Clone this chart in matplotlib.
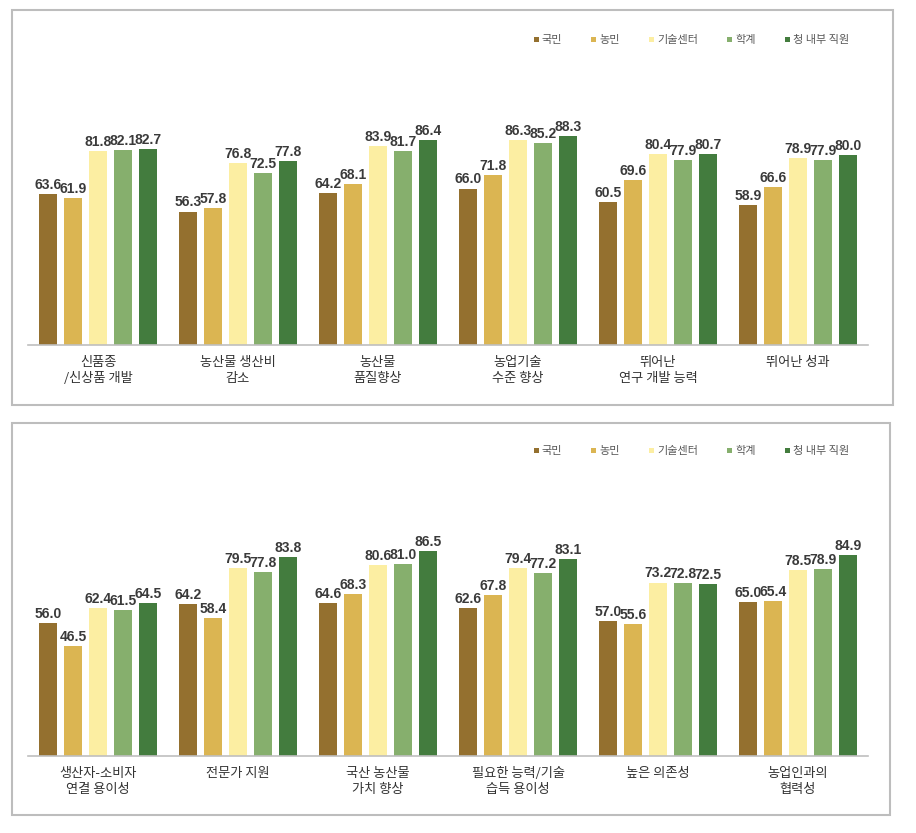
import matplotlib.pyplot as plt
import numpy as np
from matplotlib.patches import Rectangle

plt.rcParams["font.family"] = ["Noto Sans CJK KR", "DejaVu Sans"]

groups = ["국민", "농민", "기술센터", "학계", "청 내부 직원"]
colors = ["#94702F", "#DBB552", "#FCEEA2", "#86AF6D", "#437C3E"]

top_cats = ["신품종\n/신상품 개발", "농산물 생산비\n감소", "농산물\n품질향상",
            "농업기술\n수준 향상", "뛰어난\n연구 개발 능력", "뛰어난 성과"]
top_vals = [
    [63.6, 56.3, 64.2, 66.0, 60.5, 58.9],
    [61.9, 57.8, 68.1, 71.8, 69.6, 66.6],
    [81.8, 76.8, 83.9, 86.3, 80.4, 78.9],
    [82.1, 72.5, 81.7, 85.2, 77.9, 77.9],
    [82.7, 77.8, 86.4, 88.3, 80.7, 80.0],
]

bot_cats = ["생산자-소비자\n연결 용이성", "전문가 지원", "국산 농산물\n가치 향상",
            "필요한 능력/기술\n습득 용이성", "높은 의존성", "농업인과의\n협력성"]
bot_vals = [
    [56.0, 64.2, 64.6, 62.6, 57.0, 65.0],
    [46.5, 58.4, 68.3, 67.8, 55.6, 65.4],
    [62.4, 79.5, 80.6, 79.4, 73.2, 78.5],
    [61.5, 77.8, 81.0, 77.2, 72.8, 78.9],
    [64.5, 83.8, 86.5, 83.1, 72.5, 84.9],
]

W, H = 916, 833
fig = plt.figure(figsize=(W / 100, H / 100), dpi=100)


def px_rect(x0, y0, x1, y1):
    return (x0 / W, 1 - y1 / H, (x1 - x0) / W, (y1 - y0) / H)


def draw_panel(ax, cats, vals):
    x = np.arange(len(cats))
    pitch, bw = 0.1786, 0.128
    for i, (g, c) in enumerate(zip(groups, colors)):
        bars = ax.bar(x + (i - 2) * pitch, vals[i], bw, color=c, label=g)
        ax.bar_label(bars, fmt="%.1f", padding=1.5, fontsize=10,
                     fontweight="bold", color="#3A3A3A",
                     family=["Liberation Sans", "DejaVu Sans"])
    ax.set_xlim(-0.5, len(cats) - 0.5)
    ax.set_ylim(0, 100)
    ax.set_xticks(x)
    ax.set_xticklabels(cats, fontsize=9.5, color="#333333", linespacing=1.25)
    ax.tick_params(axis="x", length=0, pad=8)
    ax.set_yticks([])
    for s in ["top", "right", "left"]:
        ax.spines[s].set_visible(False)
    ax.spines["bottom"].set_color("#BFBFBF")
    ax.spines["bottom"].set_linewidth(1.2)
    ax.legend(loc="center right", bbox_to_anchor=(0.99, 1.285), ncol=5,
              frameon=False, fontsize=8, handlelength=0.45,
              handleheight=0.45, handletextpad=0.3, columnspacing=2.6,
              labelcolor="#595959")


for (x0, y0, x1, y1) in [(12, 10, 893, 405), (12, 423, 890, 815)]:
    fig.patches.append(Rectangle((x0 / W, 1 - y1 / H), (x1 - x0) / W, (y1 - y0) / H,
                                 transform=fig.transFigure, fill=False,
                                 edgecolor="#BDBDBD", linewidth=1.5))

ax1 = fig.add_axes(px_rect(28, 108, 868, 345))
draw_panel(ax1, top_cats, top_vals)
ax2 = fig.add_axes(px_rect(28, 519, 868, 756))
draw_panel(ax2, bot_cats, bot_vals)

fig.savefig("out.png", dpi=100)
